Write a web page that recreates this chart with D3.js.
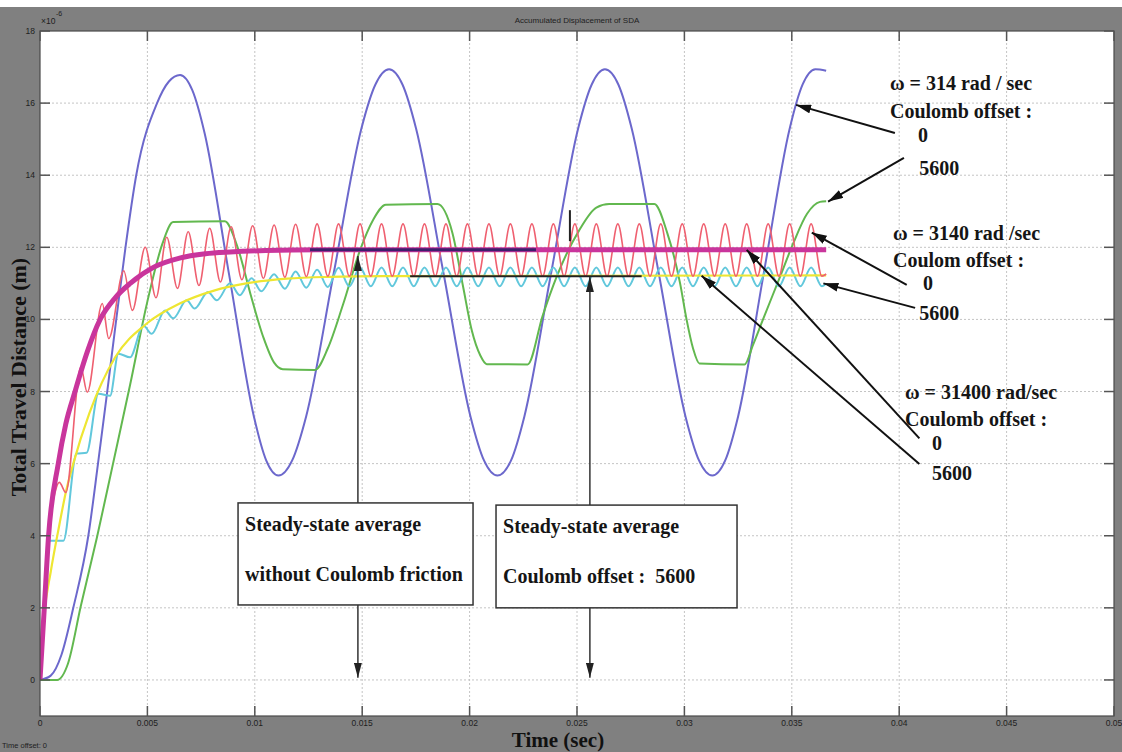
<!DOCTYPE html>
<html lang="en">
<head>
<meta charset="UTF-8">
<title>Accumulated Displacement of SDA</title>
<script src="https://d3js.org/d3.v7.min.js"></script>
<style>
  body { margin: 0; background: #fff; }
  svg { display: block; }
  .tick-label { font-family: Arial, "Liberation Sans", sans-serif; font-size: 8.5px; fill: #1e1e1e; }
  .note { font-family: "Liberation Serif", "Times New Roman", serif; font-size: 20px; font-weight: bold; fill: #151515; }
  .axis-title { font-family: "Liberation Serif", "Times New Roman", serif; font-size: 22px; font-weight: bold; fill: #111; }
</style>
</head>
<body>
<div id="chart"></div>
<script>
// tick values
const xTicks = [0, 0.005, 0.01, 0.015, 0.02, 0.025, 0.03, 0.035, 0.04, 0.045, 0.05];
const xTickLabels = ["0", "0.005", "0.01", "0.015", "0.02", "0.025", "0.03", "0.035", "0.04", "0.045", "0.05"];
const yTicks = [0, 2, 4, 6, 8, 10, 12, 14, 16, 18];

// series: [time (s), distance (x1e-6 m)]
// w = 314 rad/s, Coulomb offset 0
const blue314 = [
  [0, 0], [0.0005, 0.12], [0.001, 0.7], [0.00155, 2.0], [0.00225, 4.0], [0.0027, 6.0], [0.00313, 8.0],
  [0.00355, 10.0], [0.00398, 12.0], [0.00448, 14.0], [0.00545, 16.0], [0.006, 16.6], [0.00652, 16.78],
  [0.00709, 16.36], [0.00767, 15.15], [0.00881, 11.22], [0.00996, 7.3], [0.01053, 6.09], [0.0111, 5.67],
  [0.01174, 6.09], [0.01239, 7.31], [0.01368, 11.3], [0.01496, 15.29], [0.01561, 16.51], [0.01625, 16.94],
  [0.01688, 16.51], [0.01751, 15.29], [0.01878, 11.3], [0.02004, 7.31], [0.02067, 6.09], [0.0213, 5.67],
  [0.02193, 6.09], [0.02255, 7.31], [0.0238, 11.3], [0.02505, 15.29], [0.02568, 16.51], [0.0263, 16.94],
  [0.02693, 16.51], [0.02755, 15.29], [0.0288, 11.3], [0.03005, 7.31], [0.03068, 6.09], [0.0313, 5.67],
  [0.0319, 6.09], [0.0325, 7.31], [0.0337, 11.3], [0.0349, 15.29], [0.0355, 16.51], [0.0361, 16.94], [0.0366, 16.9]
];

// w = 314 rad/s, Coulomb offset 5600
const green314 = [
  [0, 0], [0.0008, 0], [0.0013, 0.45], [0.0019, 2.05], [0.00265, 3.95], [0.0034, 6.0], [0.0042, 8.2],
  [0.005, 10.5], [0.0057, 12.1], [0.0062, 12.7], [0.0086, 12.72],
  [0.0092, 12.0], [0.0098, 10.7], [0.0104, 9.5], [0.0109, 8.8], [0.0113, 8.62], [0.0128, 8.6],
  [0.0134, 9.2], [0.0141, 10.4], [0.0149, 11.92], [0.0155, 12.75], [0.0161, 13.18], [0.0185, 13.2],
  [0.0192, 12.4], [0.0197, 10.9], [0.0201, 9.7], [0.0205, 9.0], [0.0208, 8.76], [0.0227, 8.75],
  [0.0234, 10.1], [0.02405, 11.18], [0.0251, 12.47], [0.0259, 13.1], [0.0265, 13.2], [0.0286, 13.2],
  [0.0292, 12.4], [0.0298, 11.0], [0.0301, 10.0], [0.0304, 9.2], [0.0307, 8.78], [0.0328, 8.75],
  [0.0332, 9.3], [0.03366, 10.0], [0.03445, 11.18], [0.03506, 12.1], [0.03571, 12.93], [0.03631, 13.26], [0.0366, 13.28]
];

// w = 3140 rad/s, Coulomb offset 0
const red3140 = [
  [0, 0], [0.0002, 2.0], [0.0004, 4.0], [0.0007, 5.2], [0.0009, 5.48], [0.0012, 5.2],
  [0.0019, 8.67], [0.0022, 7.98], [0.0029, 10.44], [0.0032, 9.47], [0.0039, 11.35], [0.0043, 10.25],
  [0.0049, 12.0], [0.0054, 10.6], [0.0059, 12.28], [0.0064, 10.86], [0.0069, 12.43], [0.0074, 10.94],
  [0.0079, 12.53], [0.0084, 11.04], [0.0089, 12.57], [0.0094, 11.1], [0.0099, 12.6], [0.0104, 11.14],
  [0.0109, 12.62], [0.0114, 11.17], [0.0119, 12.64], [0.0124, 11.19], [0.0129, 12.65], [0.0134, 11.2],
  [0.0139, 12.65], [0.0144, 11.2], [0.0149, 12.65], [0.0154, 11.2], [0.0159, 12.65], [0.0164, 11.2],
  [0.0169, 12.65], [0.0174, 11.2], [0.0179, 12.65], [0.0184, 11.2], [0.0189, 12.65], [0.0194, 11.2],
  [0.0199, 12.65], [0.0204, 11.2], [0.0209, 12.65], [0.0214, 11.2], [0.0219, 12.65], [0.0224, 11.2],
  [0.0229, 12.65], [0.0234, 11.2], [0.0239, 12.65], [0.0244, 11.2], [0.0249, 12.65], [0.0254, 11.2],
  [0.0259, 12.65], [0.0264, 11.2], [0.0269, 12.65], [0.0274, 11.2], [0.0279, 12.65], [0.0284, 11.2],
  [0.0289, 12.65], [0.0294, 11.2], [0.0299, 12.65], [0.0304, 11.2], [0.0309, 12.65], [0.0314, 11.2],
  [0.0319, 12.65], [0.0324, 11.2], [0.0329, 12.65], [0.0334, 11.2], [0.0339, 12.65], [0.0344, 11.2],
  [0.0349, 12.65], [0.0354, 11.2], [0.0359, 12.65], [0.0364, 11.2], [0.0366, 11.26]
];

// w = 3140 rad/s, Coulomb offset 5600
const cyan3140 = [
  [0, 0], [0.00047, 3.86], [0.00109, 3.86], [0.0017, 6.28], [0.00217, 6.3], [0.00272, 7.94], [0.00326, 7.88],
  [0.00365, 9.05], [0.00419, 8.95], [0.00481, 9.83], [0.0052, 9.6], [0.00582, 10.25], [0.0062, 10.03],
  [0.00683, 10.53], [0.0072, 10.3], [0.00782, 10.76], [0.00823, 10.53], [0.00885, 11.0], [0.0093, 10.67],
  [0.00985, 11.14], [0.0103, 10.78], [0.0109, 11.25], [0.0114, 10.85], [0.0119, 11.33], [0.0124, 10.88],
  [0.0129, 11.38], [0.0134, 10.9], [0.0139, 11.43], [0.0144, 10.92], [0.0149, 11.44], [0.0154, 10.92],
  [0.0159, 11.44], [0.0164, 10.92], [0.0169, 11.44], [0.0174, 10.92], [0.0179, 11.44], [0.0184, 10.92],
  [0.0189, 11.44], [0.0194, 10.92], [0.0199, 11.44], [0.0204, 10.92], [0.0209, 11.44], [0.0214, 10.92],
  [0.0219, 11.44], [0.0224, 10.92], [0.0229, 11.44], [0.0234, 10.92], [0.0239, 11.44], [0.0244, 10.92],
  [0.0249, 11.44], [0.0254, 10.92], [0.0259, 11.44], [0.0264, 10.92], [0.0269, 11.44], [0.0274, 10.92],
  [0.0279, 11.44], [0.0284, 10.92], [0.0289, 11.44], [0.0294, 10.92], [0.0299, 11.44], [0.0304, 10.92],
  [0.0309, 11.44], [0.0314, 10.92], [0.0319, 11.44], [0.0324, 10.92], [0.0329, 11.44], [0.0334, 10.92],
  [0.0339, 11.44], [0.0344, 10.92], [0.0349, 11.44], [0.0354, 10.92], [0.0359, 11.44], [0.0364, 10.92], [0.0366, 11.0]
];

// w = 31400 rad/s, Coulomb offset 0
const pink31400 = [
  [0, 0], [0.0002, 2.0], [0.0004, 4.0], [0.00085, 6.0], [0.0012, 7.1], [0.00163, 8.0], [0.0022, 9.1],
  [0.0028, 10.0], [0.0035, 10.6], [0.0042, 11.0], [0.0053, 11.45], [0.0065, 11.7], [0.0077, 11.82],
  [0.00885, 11.87], [0.0105, 11.91], [0.013, 11.93], [0.0366, 11.93]
];

// w = 31400 rad/s, Coulomb offset 5600
const yellow31400 = [
  [0, 0], [0.0002, 1.8], [0.0005, 3.0], [0.0009, 4.3], [0.0012, 5.2], [0.00155, 6.0], [0.0023, 7.4],
  [0.0035, 8.95], [0.005, 9.9], [0.0065, 10.44], [0.0081, 10.8], [0.0096, 11.0], [0.0115, 11.13],
  [0.0135, 11.18], [0.016, 11.2], [0.0366, 11.22]
];

// steady-state average markers
const avgNoFriction = [[0.01257, 11.93], [0.02309, 11.93]];
const avgOffset = [[0.01723, 11.2], [0.02801, 11.2]];
const smallMark = [[0.02467, 13.03], [0.02467, 12.17]];

// annotations (data units)
const notes = [
  {t: 0.03957, v: 16.37, text: "ω = 314 rad / sec"},
  {t: 0.03957, v: 15.59, text: "Coulomb offset :"},
  {t: 0.04088, v: 14.92, text: "0"},
  {t: 0.04093, v: 14.01, text: "5600"},
  {t: 0.03971, v: 12.2, text: "ω = 3140 rad /sec"},
  {t: 0.03971, v: 11.45, text: "Coulom offset :"},
  {t: 0.04111, v: 10.82, text: "0"},
  {t: 0.04093, v: 9.99, text: "5600"},
  {t: 0.04027, v: 7.79, text: "ω = 31400 rad/sec"},
  {t: 0.04027, v: 7.05, text: "Coulomb offset :"},
  {t: 0.04153, v: 6.38, text: "0"},
  {t: 0.04153, v: 5.55, text: "5600"}
];
const arrows = [
  [[0.0398, 15.17], [0.0352, 15.95]],
  [[0.04022, 14.48], [0.03669, 13.27]],
  [[0.04035, 10.96], [0.03593, 12.41]],
  [[0.04074, 10.32], [0.03647, 11.0]],
  [[0.04094, 6.70], [0.0329, 11.93]],
  [[0.04094, 5.99], [0.0308, 11.21]]
];
const vArrows = [
  [[0.0148, 4.91], [0.0148, 11.76]],
  [[0.0148, 2.08], [0.0148, 0.06]],
  [[0.0256, 4.85], [0.0256, 11.18]],
  [[0.0256, 2.0], [0.0256, 0.06]]
];
const boxes = [
  {t0: 0.00922, t1: 0.02016, vTop: 4.91, vBot: 2.08, lines: ["Steady-state average", "without Coulomb friction"]},
  {t0: 0.02123, t1: 0.03245, vTop: 4.85, vBot: 2.0, lines: ["Steady-state average", "Coulomb offset :\u00a0\u00a05600"]}
];

const W = 1122, H = 752;
const svg = d3.select("#chart").append("svg").attr("width", W).attr("height", H);

const x = d3.scaleLinear().domain([0, 0.05]).range([40, 1114]);
const y = d3.scaleLinear().domain([-1, 18]).range([716, 31]);

// figure background
svg.append("rect").attr("x", 0).attr("y", 7).attr("width", W).attr("height", H - 7).attr("fill", "#808080");
svg.append("rect").attr("x", x(0)).attr("y", y(18))
   .attr("width", x(0.05) - x(0)).attr("height", y(-1) - y(18)).attr("fill", "#fff");

const defs = svg.append("defs");
defs.append("clipPath").attr("id", "plot").append("rect")
    .attr("x", x(0)).attr("y", y(18)).attr("width", x(0.05) - x(0)).attr("height", y(-1) - y(18));
defs.append("marker").attr("id", "head").attr("markerUnits", "userSpaceOnUse")
    .attr("viewBox", "0 0 15 9").attr("refX", 15).attr("refY", 4.5)
    .attr("markerWidth", 15).attr("markerHeight", 9).attr("orient", "auto")
    .append("path").attr("d", "M0,0L15,4.5L0,9Z").attr("fill", "#111");
defs.append("marker").attr("id", "headV").attr("markerUnits", "userSpaceOnUse")
    .attr("viewBox", "0 0 15 8").attr("refX", 15).attr("refY", 4)
    .attr("markerWidth", 15).attr("markerHeight", 8).attr("orient", "auto")
    .append("path").attr("d", "M0,0L15,4L0,8Z").attr("fill", "#222");

// grid
const grid = svg.append("g").attr("stroke", "#c4c4c4").attr("stroke-dasharray", "2,2").attr("stroke-width", 1);
grid.selectAll(".gx").data(xTicks.slice(1, -1)).enter().append("line")
    .attr("x1", d => x(d)).attr("x2", d => x(d)).attr("y1", y(18)).attr("y2", y(-1));
grid.selectAll(".gy").data(yTicks.slice(0, -1)).enter().append("line")
    .attr("x1", x(0)).attr("x2", x(0.05)).attr("y1", d => y(d)).attr("y2", d => y(d));

// curves
const line = d3.line().x(d => x(d[0])).y(d => y(d[1])).curve(d3.curveMonotoneX);
const plot = svg.append("g").attr("clip-path", "url(#plot)").attr("fill", "none");
const series = [
  {data: blue314, color: "#6c68cc", w: 2},
  {data: green314, color: "#62b84f", w: 2},
  {data: cyan3140, color: "#62c8dc", w: 2},
  {data: yellow31400, color: "#eee632", w: 2.2},
  {data: red3140, color: "#ef6070", w: 1.6},
  {data: pink31400, color: "#c9359c", w: 5}
];
series.forEach(s => {
  plot.append("path").attr("d", line(s.data)).attr("stroke", s.color)
      .attr("stroke-width", s.w).attr("stroke-linejoin", "round");
});

const straight = d3.line().x(d => x(d[0])).y(d => y(d[1]));
plot.append("path").attr("d", straight(avgNoFriction)).attr("stroke", "#3d1f6c").attr("stroke-width", 3);
plot.append("path").attr("d", straight(avgOffset)).attr("stroke", "#222").attr("stroke-width", 2);
plot.append("path").attr("d", straight(smallMark)).attr("stroke", "#222").attr("stroke-width", 2);

// axes box and ticks
svg.append("rect").attr("x", x(0)).attr("y", y(18))
   .attr("width", x(0.05) - x(0)).attr("height", y(-1) - y(18))
   .attr("fill", "none").attr("stroke", "#4a4a4a").attr("stroke-width", 1.2);
const ticks = svg.append("g").attr("stroke", "#555").attr("stroke-width", 1.5);
xTicks.forEach(d => {
  ticks.append("line").attr("x1", x(d)).attr("x2", x(d)).attr("y1", y(-1)).attr("y2", y(-1) - 10);
  ticks.append("line").attr("x1", x(d)).attr("x2", x(d)).attr("y1", y(18)).attr("y2", y(18) + 10);
});
yTicks.forEach(d => {
  ticks.append("line").attr("x1", x(0)).attr("x2", x(0) + 10).attr("y1", y(d)).attr("y2", y(d));
  ticks.append("line").attr("x1", x(0.05)).attr("x2", x(0.05) - 10).attr("y1", y(d)).attr("y2", y(d));
});

svg.selectAll(".xl").data(xTicks).enter().append("text").attr("class", "tick-label")
   .attr("x", d => x(d)).attr("y", y(-1) + 10).attr("text-anchor", "middle")
   .text((d, i) => xTickLabels[i]);
svg.selectAll(".yl").data(yTicks).enter().append("text").attr("class", "tick-label")
   .attr("x", x(0) - 5).attr("y", d => y(d) + 3).attr("text-anchor", "end").text(d => d);

svg.append("text").attr("class", "tick-label").attr("x", x(0) + 1).attr("y", 24).text("×10");
svg.append("text").attr("class", "tick-label").style("font-size", "7px").attr("x", x(0) + 16).attr("y", 16).text("-6");
svg.append("text").attr("class", "tick-label").style("font-size", "8px")
   .attr("x", (x(0) + x(0.05)) / 2).attr("y", 23).attr("text-anchor", "middle")
   .text("Accumulated Displacement of SDA");
svg.append("text").attr("class", "tick-label").style("font-size", "7.5px")
   .attr("x", 2).attr("y", 748).text("Time offset:  0");

// axis titles
svg.append("text").attr("class", "axis-title").style("font-size", "21px")
   .attr("x", 558).attr("y", 746.5)
   .attr("text-anchor", "middle").text("Time (sec)");
svg.append("text").attr("class", "axis-title").attr("text-anchor", "middle")
   .attr("transform", `translate(26,${y(8.4)}) rotate(-90)`).text("Total Travel Distance (m)");

// boxes
boxes.forEach(b => {
  svg.append("rect").attr("x", x(b.t0)).attr("y", y(b.vTop))
     .attr("width", x(b.t1) - x(b.t0)).attr("height", y(b.vBot) - y(b.vTop))
     .attr("fill", "#fff").attr("stroke", "#333").attr("stroke-width", 1.5);
  b.lines.forEach((l, i) => {
    svg.append("text").attr("class", "note").attr("x", x(b.t0) + 7)
       .attr("y", y(b.vTop) + 28 + i * 50).text(l);
  });
});

// arrows
svg.selectAll(".arr").data(arrows).enter().append("line")
   .attr("x1", d => x(d[0][0])).attr("y1", d => y(d[0][1]))
   .attr("x2", d => x(d[1][0])).attr("y2", d => y(d[1][1]))
   .attr("stroke", "#111").attr("stroke-width", 2).attr("marker-end", "url(#head)");
svg.selectAll(".varr").data(vArrows).enter().append("line")
   .attr("x1", d => x(d[0][0])).attr("y1", d => y(d[0][1]))
   .attr("x2", d => x(d[1][0])).attr("y2", d => y(d[1][1]))
   .attr("stroke", "#333").attr("stroke-width", 1.5).attr("marker-end", "url(#headV)");

svg.selectAll(".nt").data(notes).enter().append("text").attr("class", "note")
   .attr("x", d => x(d.t)).attr("y", d => y(d.v)).text(d => d.text);
</script>
</body>
</html>
